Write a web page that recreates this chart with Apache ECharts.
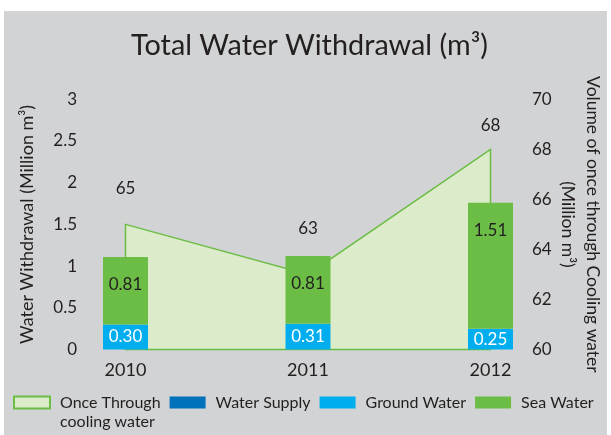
<!DOCTYPE html>
<html><head><meta charset="utf-8">
<script src="https://cdn.jsdelivr.net/npm/echarts@6/dist/echarts.min.js"></script>
<style>html,body{margin:0;padding:0;background:#fff}#c{width:611px;height:435px}</style>
</head><body><div id="c"></div>
<script>
// ---- data ----
const years = ['2010', '2011', '2012'];
const waterSupply = [0, 0, 0];
const groundWater = [0.30, 0.31, 0.25];
const seaWater = [0.81, 0.81, 1.51];
const coolingWater = [65, 63, 68];
const leftAxisRange = [0, 3, 0.5];
const rightAxisRange = [60, 70, 2];
const seriesNames = ['Once Through\ncooling water', 'Water Supply', 'Ground Water', 'Sea Water'];

// ---- style ----
const FONT = 'Lato';
const TXT = '#231f20';
const C_AREA = '#dcebc9', C_AREA_LINE = '#6cbd45';
const C_SUPPLY = '#0072bc', C_GROUND = '#00aeef', C_SEA = '#6cbd45';
const areaLabelLift = [36, 46, 24];

const chart = echarts.init(document.getElementById('c'), null, {renderer: 'canvas'});

const option = {
  backgroundColor: '#ffffff',
  animation: false,
  graphic: [{
    type: 'rect', z: -100, silent: true,
    shape: {x: 4, y: 11, width: 603, height: 430},
    style: {fill: '#d1d3d4'}
  }],
  title: {
    text: 'Total Water Withdrawal (m³)',
    left: 131, top: 31, padding: 0,
    textStyle: {fontFamily: FONT, fontWeight: 'normal', fontSize: 28.8, color: TXT}
  },
  legend: {
    left: 8, top: 369, width: 640, itemWidth: 36, itemHeight: 12, itemGap: 9,
    textStyle: {fontFamily: FONT, fontSize: 16, color: TXT, padding: [0, 0, 0, 5], lineHeight: 19},
    formatter: function (name) { return name === seriesNames[0] ? ' \n' + name : name; },
    data: [
      {name: seriesNames[0], icon: 'rect',
       itemStyle: {color: C_AREA, borderColor: C_AREA_LINE, borderWidth: 2}},
      {name: seriesNames[1], icon: 'rect', itemStyle: {color: C_SUPPLY}},
      {name: seriesNames[2], icon: 'rect', itemStyle: {color: C_GROUND}},
      {name: seriesNames[3], icon: 'rect', itemStyle: {color: C_SEA}}
    ]
  },
  grid: {left: 34.25, right: 29.25, top: 99.3, bottom: 85.5, containLabel: false, outerBoundsMode: 'none'},
  xAxis: {
    type: 'category', data: years,
    axisLine: {show: false}, axisTick: {show: false},
    axisLabel: {margin: 12, fontFamily: FONT, fontSize: 18, color: TXT}
  },
  yAxis: [{
    type: 'value', min: leftAxisRange[0], max: leftAxisRange[1], interval: leftAxisRange[2],
    splitLine: {show: false}, axisLine: {show: false}, axisTick: {show: false},
    axisLabel: {margin: -42.75, fontFamily: FONT, fontSize: 17, color: TXT},
    name: 'Water Withdrawal (Million m³)', nameLocation: 'middle', nameRotate: 90, nameGap: -3,
    nameMoveOverlap: false,
    nameTextStyle: {fontFamily: FONT, fontSize: 18, color: TXT, lineHeight: 20}
  }, {
    type: 'value', min: rightAxisRange[0], max: rightAxisRange[1], interval: rightAxisRange[2],
    position: 'right',
    splitLine: {show: false}, axisLine: {show: false}, axisTick: {show: false},
    axisLabel: {margin: -49.75, fontFamily: FONT, fontSize: 17, color: TXT},
    name: 'Volume of once through Cooling water\n(Million m³)', nameLocation: 'middle', nameRotate: -90, nameGap: -27,
    nameMoveOverlap: false,
    nameTextStyle: {fontFamily: FONT, fontSize: 17.5, color: TXT, lineHeight: 25}
  }],
  series: [
    {
      name: seriesNames[0], type: 'custom', xAxisIndex: 0, yAxisIndex: 1, z: 1,
      itemStyle: {color: C_AREA, borderColor: C_AREA_LINE, borderWidth: 2},
      data: coolingWater.map((v, i) => [i, v]),
      encode: {x: 0, y: 1},
      renderItem: function (params, api) {
        const i = params.dataIndex;
        const children = [];
        if (i === 0) {
          const pts = coolingWater.map((v, k) => api.coord([k, v]));
          pts.push(api.coord([coolingWater.length - 1, rightAxisRange[0]]));
          pts.push(api.coord([0, rightAxisRange[0]]));
          children.push({type: 'polygon', shape: {points: pts},
            style: {fill: C_AREA, stroke: C_AREA_LINE, lineWidth: 1.5}});
        }
        const p = api.coord([i, api.value(1)]);
        children.push({type: 'text', x: p[0], y: p[1] - areaLabelLift[i],
          style: {text: String(api.value(1)), fill: TXT, font: '17px ' + FONT, align: 'center', verticalAlign: 'middle'}});
        return {type: 'group', children: children};
      }
    },
    {
      name: seriesNames[1], type: 'bar', stack: 'w', barWidth: 45, z: 3,
      itemStyle: {color: C_SUPPLY}, data: waterSupply
    },
    {
      name: seriesNames[2], type: 'bar', stack: 'w', barWidth: 45, z: 3,
      itemStyle: {color: C_GROUND}, data: groundWater,
      label: {show: true, position: 'inside', color: '#ffffff', fontFamily: FONT, fontSize: 17,
        formatter: p => p.value.toFixed(2)}
    },
    {
      name: seriesNames[3], type: 'bar', stack: 'w', barWidth: 45, z: 3,
      itemStyle: {color: C_SEA}, data: seaWater,
      label: {show: true, position: 'insideTop', distance: 19, color: TXT, fontFamily: FONT, fontSize: 17,
        formatter: p => p.value.toFixed(2)}
    }
  ]
};
chart.setOption(option);
</script>
</body></html>
